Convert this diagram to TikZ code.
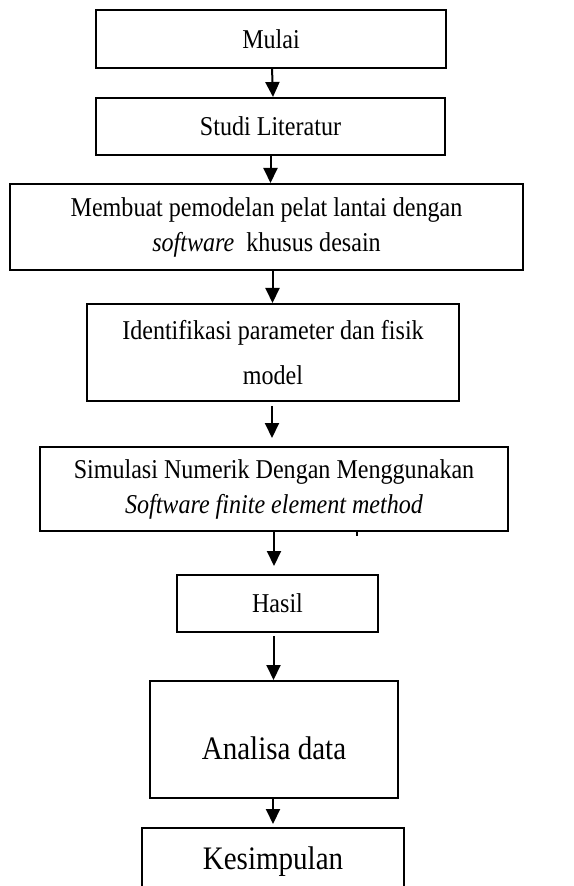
\documentclass[tikz,border=0pt]{standalone}
\usepackage{fontspec}
\setmainfont{Liberation Serif}[FakeStretch=0.885]
\usetikzlibrary{arrows.meta}

\begin{document}
\begin{tikzpicture}
		[x=0.5pt,y=-0.5pt,
		%Styles
		process box/.style={draw,line width=1pt,inner sep=0pt,align=center,
			font=\fontsize{13.6}{17.5}\selectfont},
		big text/.style={font=\fontsize{16.4}{19}\selectfont},
		flow/.style={line width=1pt,-{Triangle[width=7pt,length=7.5pt]}}
		]
		
		\clip (0,0) rectangle (573,886);
		
		%The graphic
		\node[process box,minimum width=175pt,minimum height=29pt] (1) at (271,39) {Mulai};
		\node[process box,minimum width=174.5pt,minimum height=28.5pt] (2) at (270.5,126.5) {Studi Literatur};
		\node[process box,minimum width=256.5pt,minimum height=43pt] (3) at (266.5,227)
			{Membuat pemodelan pelat lantai dengan\\ \textit{software}\ \ khusus desain};
		\node[process box,minimum width=186pt,minimum height=48.5pt,
			font=\fontsize{13.6}{22.5}\selectfont] (4) at (273,352.5)
			{Identifikasi parameter dan fisik\\ model};
		\node[process box,minimum width=233.75pt,minimum height=42pt] (5) at (274,489)
			{Simulasi Numerik Dengan Menggunakan\\ \textit{Software finite element method}};
		\node[process box,minimum width=100.5pt,minimum height=28.5pt] (6) at (277.5,603.5) {Hasil};
		\node[process box,big text,minimum width=124pt,minimum height=58.5pt] (7) at (274,739.5)
			{\raisebox{-4.5pt}[\height][\depth]{Analisa data}};
		\node[process box,big text,minimum width=131pt,minimum height=34pt] (8) at (273,862) {Kesimpulan};
		
		\path[flow] (1) edge ([xshift=1pt]1 |- 2.north);
		\path[flow] (2) edge (2 |- 3.north);
		\path[flow] ([xshift=1pt]2 |- 3.south) edge ([xshift=1pt]2 |- 4.north);
		\path[flow,shorten <=2pt,shorten >=4pt] ([xshift=-0.5pt]4.south) edge ([xshift=-0.5pt]4 |- 5.north);
		\path[flow,shorten >=4pt] (5) edge (5 |- 6.north);
		\path[flow,shorten <=1.5pt] ([xshift=-2pt]6.south) edge ([xshift=-2pt]6 |- 7.north);
		\path[flow,shorten >=1.5pt] ([xshift=-0.5pt]7.south) edge ([xshift=-0.5pt]7 |- 8.north);
		
		\draw[line width=0.8pt] (5.south) ++(83,0) -- ++(0,4);
	\end{tikzpicture}
\end{document}
